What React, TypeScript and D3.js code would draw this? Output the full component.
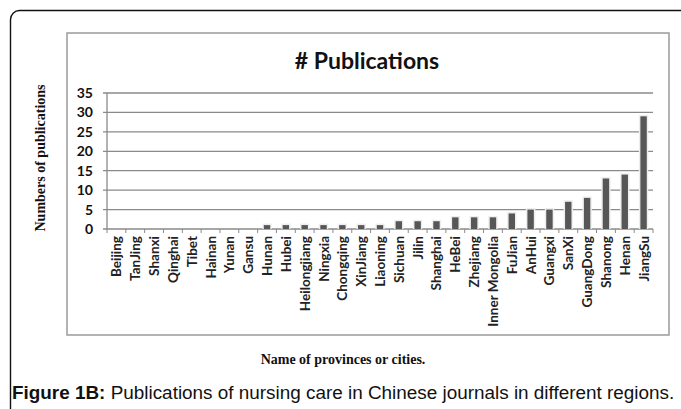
import * as d3 from "d3";

const regions = [
  "Beijing", "TanJing", "Shanxi", "Qinghai", "Tibet", "Hainan", "Yunan", "Gansu",
  "Hunan", "Hubei", "Heilongjiang", "Ningxia", "Chongqing", "XinJiang", "Liaoning",
  "Sichuan", "Jilin", "Shanghai", "HeBei", "Zhejiang", "Inner Mongolia", "FuJian",
  "AnHui", "Guangxi", "SanXi", "GuangDong", "Shanong", "Henan", "JiangSu",
];
const publications = [
  0, 0, 0, 0, 0, 0, 0, 0,
  1, 1, 1, 1, 1, 1, 1,
  2, 2, 2, 3, 3, 3, 4,
  5, 5, 7, 8, 13, 14, 29,
];
const yTicks = [0, 5, 10, 15, 20, 25, 30, 35];

const W = 681;
const H = 409;
const plot = { left: 107, right: 653, top: 93, bottom: 229 };

export default function App() {
  const x = d3
    .scaleBand<string>()
    .domain(regions)
    .range([plot.left, plot.right])
    .paddingInner(0.66)
    .paddingOuter(0.33);
  const y = d3.scaleLinear().domain([0, 35]).range([plot.bottom, plot.top]);
  const barW = x.bandwidth();
  // category boundaries for the axis tick marks
  const bounds = d3.range(regions.length + 1).map(
    (i) => plot.left + (i * (plot.right - plot.left)) / regions.length,
  );

  return (
    <svg
      width={W}
      height={H}
      style={{ position: "absolute", left: 0, top: 0, background: "#fff" }}
    >
      {/* outer figure frame */}
      <rect x={10.5} y={10.5} width={700} height={430} rx={9} fill="none" stroke="#111" strokeWidth={1.4} />
      {/* chart box */}
      <rect x={67} y={33} width={602} height={302} fill="#fff" stroke="#9a9a9a" strokeWidth={1.5} />

      <text x={367} y={69} textAnchor="middle" fontFamily="Lato" fontWeight={700} fontSize={23} fill="#111">
        # Publications
      </text>

      {/* grid */}
      {yTicks.map((t) => (
        <g key={t}>
          <line x1={plot.left - 4} x2={plot.right} y1={y(t)} y2={y(t)} stroke="#8a8a8a" strokeWidth={1.3} />
          <text x={93} y={y(t) + 5} textAnchor="end" fontFamily="Lato" fontWeight={700} fontSize={14} fill="#111">
            {t}
          </text>
        </g>
      ))}
      <line x1={plot.left} x2={plot.left} y1={plot.top} y2={plot.bottom} stroke="#8a8a8a" strokeWidth={1.3} />
      {bounds.map((tx, i) => (
        <line key={i} x1={tx} x2={tx} y1={plot.bottom} y2={plot.bottom + 4} stroke="#8a8a8a" strokeWidth={1} />
      ))}

      {/* bars */}
      {regions.map((r, i) => {
        const v = publications[i];
        if (v === 0) return null;
        const bx = x(r) as number;
        return (
          <g key={r}>
            <rect x={bx - 1.5} y={y(v) - 1.5} width={barW + 3} height={plot.bottom - y(v) + 1.5} fill="#eeeeee" />
            <rect x={bx} y={y(v)} width={barW} height={plot.bottom - y(v)} fill="#575757" />
          </g>
        );
      })}

      {/* category labels */}
      {regions.map((r) => {
        const cx = (x(r) as number) + barW / 2;
        return (
          <text
            key={r}
            transform={`translate(${cx + 5},${plot.bottom + 7}) rotate(-90)`}
            textAnchor="end"
            fontFamily="Lato"
            fontWeight={700}
            fontSize={13.5}
            fill="#222"
          >
            {r}
          </text>
        );
      })}

      <text
        transform="translate(45,158) rotate(-90)"
        textAnchor="middle"
        fontFamily="Liberation Serif"
        fontWeight={700}
        fontSize={14}
        fill="#111"
      >
        Numbers of publications
      </text>
      <text x={343} y={364} textAnchor="middle" fontFamily="Liberation Serif" fontWeight={700} fontSize={14} fill="#111">
        Name of provinces or cities.
      </text>
      <text x={12} y={399} fontFamily="Liberation Sans" fontSize={18.9} fill="#111">
        <tspan fontWeight={700}>Figure 1B:</tspan> Publications of nursing care in Chinese journals in different regions.
      </text>
    </svg>
  );
}
